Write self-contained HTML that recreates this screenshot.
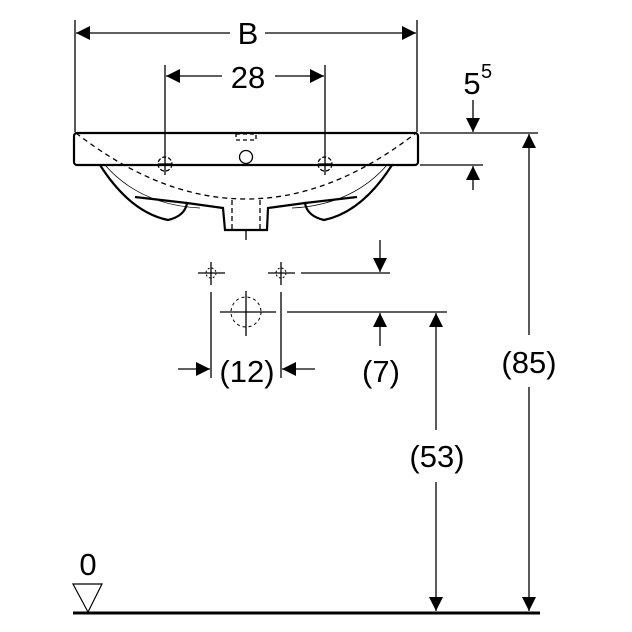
<!DOCTYPE html>
<html><head><style>body{margin:0;background:#fff}svg{display:block}text{font-family:"Liberation Sans",sans-serif;fill:#000}</style></head>
<body>
<svg width="632" height="632" viewBox="0 0 632 632" xmlns="http://www.w3.org/2000/svg">
<defs>
<marker id="a" viewBox="0 0 10 10" refX="10" refY="5" markerWidth="20" markerHeight="14" markerUnits="userSpaceOnUse" orient="auto"><path d="M0,0L10,5L0,10z" fill="#000"/></marker>
</defs>
<g stroke="#000" stroke-width="1.3" fill="none">
<line x1="75" y1="20" x2="75" y2="132"/><line x1="417" y1="20" x2="417" y2="132"/>
<line x1="230" y1="33" x2="76" y2="33" marker-end="url(#a)"/>
<line x1="265" y1="33" x2="416" y2="33" marker-end="url(#a)"/>
<line x1="165" y1="65" x2="165" y2="175"/><line x1="325" y1="65" x2="325" y2="175"/>
<line x1="222" y1="76" x2="166" y2="76" marker-end="url(#a)"/><line x1="275" y1="76" x2="324" y2="76" marker-end="url(#a)"/>
<rect x="74" y="133" width="344" height="32" rx="3" stroke-width="2.2"/>
<path d="M100,165 Q130,212 168,220 Q185,216 187,203 L223,208 L225,230 L267,230 L268,208 L305,203 Q307,216 324,220 Q362,212 392,165" stroke-width="2.2"/>
<path d="M135,197 L187,203 M357,197 L305,203" stroke-width="2.2"/>
<path d="M105,165 Q140,205 200,208" stroke-width="0.8"/>
<path d="M387,165 Q352,205 292,208" stroke-width="0.8"/>
<path d="M76,133 Q246,265 416,133" stroke-dasharray="5,4"/>
<path d="M232,200 L232,230 M260,200 L260,230" stroke-dasharray="5,3"/>
<rect x="236" y="134" width="20" height="6" stroke-dasharray="4,3"/>
<circle cx="165" cy="164" r="7" stroke-dasharray="4,2"/><circle cx="325" cy="164" r="7" stroke-dasharray="4,2"/>
<circle cx="246" cy="157" r="6.5"/>
<line x1="158" y1="164" x2="172" y2="164"/><line x1="318" y1="164" x2="332" y2="164"/>
<line x1="246" y1="231" x2="246" y2="240"/>
<line x1="420" y1="133" x2="538" y2="133"/><line x1="420" y1="165" x2="483" y2="165"/>
<line x1="473" y1="100" x2="473" y2="132" marker-end="url(#a)"/>
<line x1="473" y1="190" x2="473" y2="166" marker-end="url(#a)"/>
<line x1="211" y1="262" x2="211" y2="285"/><line x1="198" y1="273" x2="225" y2="273"/>
<circle cx="211" cy="273" r="5" stroke-dasharray="2,2" stroke-width="1"/>
<line x1="281" y1="262" x2="281" y2="285"/><line x1="268" y1="273" x2="295" y2="273"/>
<circle cx="281" cy="273" r="5" stroke-dasharray="2,2" stroke-width="1"/>
<line x1="301" y1="273" x2="390" y2="273"/>
<line x1="380" y1="240" x2="380" y2="272" marker-end="url(#a)"/>
<line x1="246" y1="291" x2="246" y2="336"/><line x1="220" y1="312" x2="276" y2="312"/>
<circle cx="246" cy="312" r="15" stroke-dasharray="3,3" stroke-width="1"/>
<line x1="287" y1="312" x2="447" y2="312"/>
<line x1="211" y1="292" x2="211" y2="378"/><line x1="281" y1="292" x2="281" y2="378"/>
<line x1="178" y1="369" x2="210" y2="369" marker-end="url(#a)"/>
<line x1="315" y1="369" x2="282" y2="369" marker-end="url(#a)"/>
<line x1="380" y1="346" x2="380" y2="313" marker-end="url(#a)"/>
<line x1="436" y1="430" x2="436" y2="313" marker-end="url(#a)"/>
<line x1="436" y1="482" x2="436" y2="611" marker-end="url(#a)"/>
<line x1="529" y1="335" x2="529" y2="134" marker-end="url(#a)"/>
<line x1="529" y1="387" x2="529" y2="611" marker-end="url(#a)"/>
<line x1="73" y1="613" x2="540" y2="613" stroke-width="3"/>
<path d="M73,584 L102,584 L88,612 Z" stroke-width="1.2"/>
</g>
<g font-size="31" text-anchor="middle">
<text x="248" y="44">B</text>
<text x="248" y="88">28</text>
<text x="247" y="382">(12)</text>
<text x="381" y="382">(7)</text>
<text x="437" y="467">(53)</text>
<text x="529" y="373">(85)</text>
<text x="88" y="575">0</text>
<text x="472" y="94">5</text>
</g>
<text x="481" y="78" font-size="20">5</text>
</svg>
</body></html>
